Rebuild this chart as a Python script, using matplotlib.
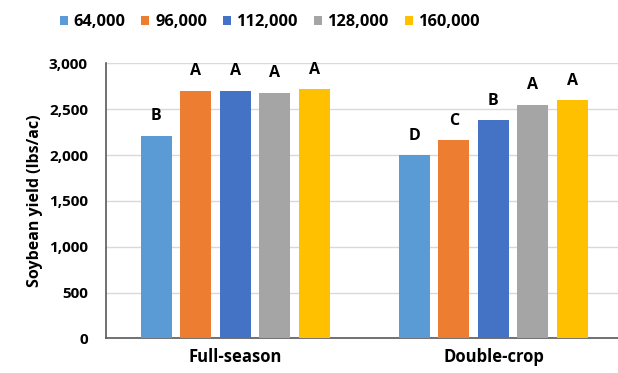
import numpy as np
import matplotlib
matplotlib.use("Agg")
import matplotlib.pyplot as plt

plt.rcParams['font.family'] = ['Open Sans', 'DejaVu Sans']
plt.rcParams['font.weight'] = 'bold'

# Soybean yield by seeding rate and planting system
systems = ["Full-season", "Double-crop"]
rates = ["64,000", "96,000", "112,000", "128,000", "160,000"]
colors = ["#5B9BD5", "#ED7D31", "#4472C4", "#A5A5A5", "#FFC000"]

full_season = [2210, 2700, 2700, 2680, 2720]
double_crop = [2000, 2160, 2380, 2550, 2600]
full_season_letters = ["B", "A", "A", "A", "A"]
double_crop_letters = ["D", "C", "B", "A", "A"]

yields = [full_season, double_crop]
letters = [full_season_letters, double_crop_letters]

fig = plt.figure(figsize=(6.18, 3.73), dpi=100)
ax = fig.add_axes([0.1715, 0.0925, 0.836, 0.7375])

x = np.arange(len(systems))
pitch = 0.153
width = 0.12

for i, rate in enumerate(rates):
    vals = [yields[g][i] for g in range(len(systems))]
    pos = x + (i - 2) * pitch
    ax.bar(pos, vals, width, color=colors[i], label=rate, zorder=3)
    for g in range(len(systems)):
        ax.annotate(letters[g][i], (pos[g], vals[g]), xytext=(0, 14),
                    textcoords='offset points', ha='center', va='center',
                    fontsize=11.5, fontweight='bold', color='black')

ax.set_xlim(-0.5, 1.5)
ax.set_ylim(0, 3000)
ax.set_yticks(np.arange(0, 3001, 500))
ax.set_yticklabels([f"{v:,}" for v in range(0, 3001, 500)])
ax.set_xticks(x)
ax.set_xticklabels(systems)
ax.tick_params(axis='y', length=0, pad=13, labelsize=11)
ax.tick_params(axis='x', length=0, pad=7, labelsize=12)
ax.yaxis.grid(True, color='#d9d9d9', linewidth=1, zorder=0)
ax.set_axisbelow(True)

for side in ['top', 'right']:
    ax.spines[side].set_visible(False)
ax.spines['left'].set_color('#595959')
ax.spines['bottom'].set_color('#595959')
ax.spines['left'].set_linewidth(1.2)
ax.spines['bottom'].set_linewidth(1.2)

ax.set_ylabel("Soybean yield (lbs/ac)", fontsize=11.5, fontweight='bold', labelpad=4)

fig.legend(loc='center', bbox_to_anchor=(270 / 618, 1 - 22 / 373), ncol=5,
           frameon=False, fontsize=11.8, handlelength=0.5, handleheight=0.5,
           handletextpad=0.35, columnspacing=0.95)

fig.savefig("out.png", dpi=100)
